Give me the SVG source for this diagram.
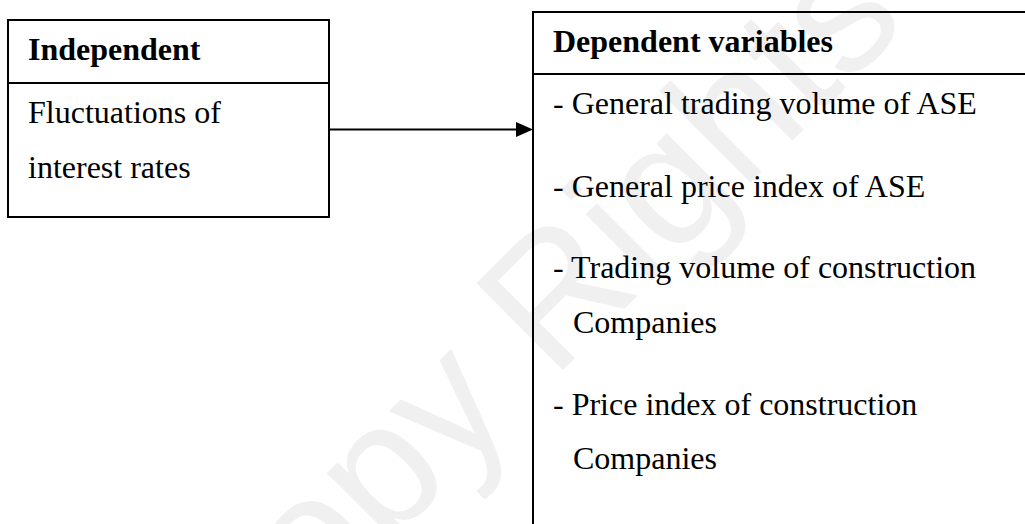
<svg xmlns="http://www.w3.org/2000/svg" width="1025" height="524" viewBox="0 0 1025 524">
  <style>
    .box { fill: none; stroke: #000; stroke-width: 2; }
    .hdr { font-family: "Liberation Serif", "Times New Roman", serif; font-size: 32px; font-weight: bold; fill: #000; }
    .txt { font-family: "Liberation Serif", "Times New Roman", serif; font-size: 32px; fill: #000; }
    .wm { font-family: "Liberation Sans", Arial, sans-serif; font-size: 178px; fill: #f0f0f0; }
    .conn { stroke: #000; stroke-width: 2; fill: none; }
  </style>
  <rect x="0" y="0" width="1025" height="524" fill="#fff"/>
  <text class="wm" transform="translate(224,709) rotate(-45)">Copy Rights</text>

  <g id="independent">
    <rect class="box" x="8" y="20" width="321" height="197"/>
    <line class="box" x1="8" y1="83" x2="329" y2="83"/>
    <text class="hdr" x="28" y="60">Independent</text>
    <text class="txt" x="28" y="123">Fluctuations of</text>
    <text class="txt" x="28" y="178">interest rates</text>
  </g>

  <g id="dependent">
    <rect class="box" x="533" y="12" width="600" height="600"/>
    <line class="box" x1="533" y1="74" x2="1025" y2="74"/>
    <text class="hdr" x="553" y="52">Dependent variables</text>
    <text class="txt" x="553" y="114">- General trading volume of ASE</text>
    <text class="txt" x="553" y="197">- General price index of ASE</text>
    <text class="txt" x="553" y="278">- Trading volume of construction</text>
    <text class="txt" x="573" y="333">Companies</text>
    <text class="txt" x="553" y="415">- Price index of construction</text>
    <text class="txt" x="573" y="469">Companies</text>
  </g>

  <g id="connectors">
    <line class="conn" x1="329" y1="129.5" x2="518" y2="129.5"/>
    <polygon points="516,122 533,129.5 516,137" fill="#000"/>
  </g>
</svg>
